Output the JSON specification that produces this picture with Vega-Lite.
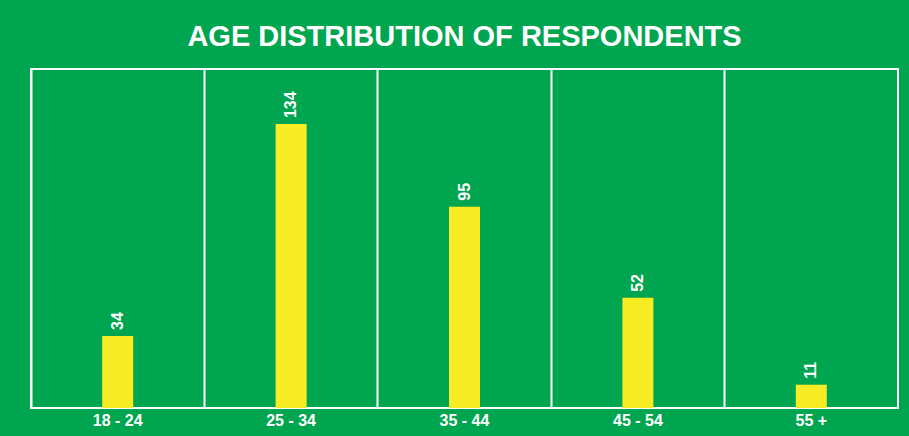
{
  "$schema": "https://vega.github.io/schema/vega-lite/v6.json",
  "autosize": "none",
  "width": 867,
  "height": 339,
  "padding": {"left": 31, "top": 69, "right": 11, "bottom": 28},
  "background": "#00A54F",
  "title": {
    "text": "AGE DISTRIBUTION OF RESPONDENTS",
    "anchor": "middle",
    "color": "white",
    "font": "Liberation Sans",
    "fontSize": 29,
    "fontWeight": "bold",
    "offset": 17
  },
  "config": {
    "view": {"stroke": "white", "strokeWidth": 2},
    "font": "Liberation Sans"
  },
  "data": {
    "values": [
      {"age": "18 - 24", "count": 34},
      {"age": "25 - 34", "count": 134},
      {"age": "35 - 44", "count": 95},
      {"age": "45 - 54", "count": 52},
      {"age": "55 +", "count": 11}
    ]
  },
  "encoding": {
    "x": {
      "field": "age",
      "type": "nominal",
      "sort": null,
      "scale": {"paddingInner": 0, "paddingOuter": 0},
      "axis": {
        "title": null,
        "labelAngle": 0,
        "labelColor": "white",
        "labelFont": "Liberation Sans",
        "labelFontSize": 16,
        "labelFontWeight": "bold",
        "labelPadding": 4,
        "ticks": false,
        "domain": false,
        "grid": true,
        "gridColor": "white",
        "gridWidth": 2,
        "gridOpacity": 1,
        "bandPosition": 0
      }
    },
    "y": {
      "field": "count",
      "type": "quantitative",
      "scale": {"domain": [0, 160], "nice": false},
      "axis": null
    }
  },
  "layer": [
    {"mark": {"type": "bar", "size": 31, "color": "#F8EC25"}},
    {
      "mark": {
        "type": "text",
        "angle": -90,
        "align": "left",
        "baseline": "middle",
        "dx": 6,
        "color": "white",
        "font": "Liberation Sans",
        "fontSize": 16,
        "fontWeight": "bold"
      },
      "encoding": {"text": {"field": "count", "type": "quantitative"}}
    }
  ]
}
